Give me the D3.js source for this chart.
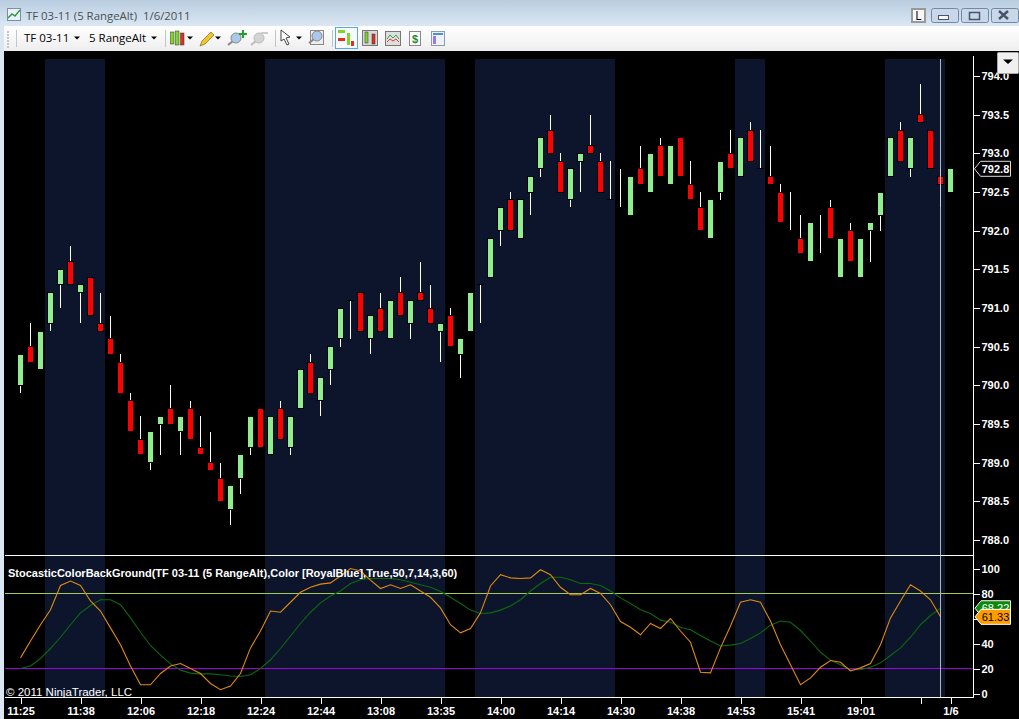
<!DOCTYPE html>
<html>
<head>
<meta charset="utf-8">
<title>TF 03-11 (5 RangeAlt)</title>
<script src="https://cdnjs.cloudflare.com/ajax/libs/d3/7.8.5/d3.min.js"></script>
<style>
  body { margin: 0; background: #000; overflow: hidden; }
  svg { display: block; }
  .axis text { font: bold 11px "Liberation Sans", Arial, sans-serif; fill: #fff; }
  .axis path, .axis line { stroke: #fff; shape-rendering: crispEdges; }
</style>
</head>
<body>
<div id="chart"></div>
<script>
// bar values, one entry per 5 range bar
var opens = [790.0,790.5,790.2,790.8,791.3,791.6,791.2,791.4,790.8,790.6,790.3,789.8,789.3,789.0,789.5,789.7,789.4,789.7,789.2,789.0,788.8,788.4,788.8,789.2,789.7,789.1,789.7,789.2,789.7,790.3,789.8,790.2,790.6,791.1,791.2,790.6,791.0,790.6,791.2,790.8,791.2,791.0,790.7,790.9,790.4,790.7,791.3,791.4,792.0,792.4,791.9,792.5,792.8,793.3,792.9,792.4,792.9,793.1,792.9,792.4,792.3,792.2,792.8,792.5,793.1,792.6,793.2,792.6,792.3,791.9,792.5,793.0,792.7,793.3,792.8,792.7,792.5,792.0,791.9,791.6,791.7,792.3,791.4,792.0,791.4,792.0,792.2,792.7,793.3,792.8,793.5,793.3,792.7,792.5];
var closes = [790.4,790.3,790.7,791.2,791.5,791.3,791.3,790.9,790.7,790.4,789.9,789.4,789.1,789.4,789.6,789.5,789.6,789.3,789.1,788.9,788.5,788.7,789.1,789.6,789.2,789.6,789.3,789.6,790.2,789.9,790.1,790.5,791.0,791.1,790.7,790.9,790.7,791.1,790.9,791.1,791.1,790.8,790.8,790.5,790.6,791.2,791.3,791.9,792.3,792.0,792.4,792.7,793.2,793.0,792.5,792.8,793.0,793.0,792.5,792.4,792.3,792.7,792.6,793.0,792.7,793.1,792.7,792.4,792.0,792.4,792.9,792.8,793.2,792.9,792.8,792.6,792.1,792.0,791.7,792.1,791.7,791.9,791.9,791.6,791.9,792.1,792.5,793.2,792.9,793.2,793.4,792.8,792.6,792.8];
var highs = [790.4,790.8,790.7,791.2,791.5,791.8,791.3,791.4,791.2,790.9,790.4,789.9,789.6,789.4,789.6,790.0,789.6,789.8,789.6,789.4,789.0,788.7,789.1,789.6,789.7,789.6,789.8,789.6,790.2,790.4,790.1,790.5,791.0,791.1,791.2,790.9,791.2,791.1,791.4,791.1,791.6,791.3,790.8,791.0,790.6,791.2,791.3,791.9,792.3,792.5,792.4,792.7,793.2,793.5,793.0,792.8,793.0,793.5,793.0,792.9,792.8,792.7,793.1,793.0,793.2,793.1,793.2,792.9,792.5,792.4,792.9,793.3,793.2,793.4,793.3,793.1,792.6,792.5,792.2,792.1,792.2,792.4,791.9,792.1,791.9,792.1,792.5,793.2,793.4,793.2,793.9,793.3,792.8,792.8];
var lows = [789.9,790.3,790.2,790.7,791.0,791.3,790.8,790.9,790.7,790.4,789.9,789.4,789.1,788.9,789.1,789.5,789.1,789.3,789.1,788.9,788.5,788.2,788.6,789.1,789.2,789.1,789.3,789.1,789.7,789.9,789.6,790.0,790.5,790.6,790.7,790.4,790.7,790.6,790.9,790.6,791.1,790.8,790.3,790.5,790.1,790.7,790.8,791.4,791.8,792.0,791.9,792.2,792.7,793.0,792.5,792.3,792.5,793.0,792.5,792.4,792.3,792.2,792.6,792.5,792.7,792.6,792.7,792.4,792.0,791.9,792.4,792.8,792.7,792.9,792.8,792.6,792.1,792.0,791.7,791.6,791.7,791.9,791.4,791.6,791.4,791.6,792.0,792.7,792.9,792.7,793.4,792.8,792.3,792.5];

// stochastics, one value less than the bars (last bar has no value yet)
var stochK = [28.5,42,55,67,86.4,90,86.4,74,66,52.5,39,22,7,7,16,22,24,20,16,8,3,6,16,36.5,50,66,65,73,81,85,87.5,88.5,94,100,98,90.7,84,87,84,87,82,77,68.5,55,48.5,52,64.5,86,95,92.5,92,92.5,99,95,85,79,79,84,80,71,57.6,53,47,56,52,60,50,41,17,16.5,36.5,54,73,75,73,58,39,23,7,12.5,21,26.4,25,18,20.5,24,39,60.5,74,87,82,75,61.33];
var stochD = [20,22,28,36,45,55,64.5,70.4,75,75,71,60.5,49,38.4,30.7,23.7,18.7,16.3,15.7,15.7,15,14,13.6,15,20,27,36,46,56,65,72.5,78,82,88,91,92,92,92,91,89,87,85,81.6,77,72,66.7,64,64.5,66.7,70,75,82,88,93,93,91,88,88,86.4,82,76.5,72,67,64,58.7,57,53,51,46.4,42,38,38.7,40,44,48.5,54.7,58,57,50.4,42,33,26.7,23,19,19,21,24.5,30.4,36.5,45,55,62.4,68.22];

// shaded background runs, first and last bar index of each
var shadedRuns = [[3, 8], [25, 42], [46, 59], [72, 74], [87, 92]];

var priceTicks = [794,793.5,793,792.5,792,791.5,791,790.5,790,789.5,789,788.5,788];
var stochTicks = [100,80,60,40,20,0];
var stochLevels = [80, 20];

var timeTickBars = [0,6,12,18,24,30,36,42,48,54,60,66,72,78,84,90,93];
var timeTickLabels = ["11:25","11:38","12:06","12:18","12:24","12:44","13:08","13:35","14:00","14:14","14:30","14:38","14:53","15:41","19:01","","1/6"];

var svgWidth = 1019;
var svgHeight = 719;

var panelLeft = 5;
var axisX = 973.5;
var priceTop = 59;
var dividerY = 555.5;
var stochBottom = 697.5;

var navy = "#0c152b";
var upColor = "#90ee90";
var downColor = "#ff0000";
var kColor = "#e08a10";
var dColor = "#0b6a0b";
var levelColors = ["#a4cc48", "#a000e0"];

var svg = d3.select("#chart")
  .append("svg")
  .attr("width", svgWidth)
  .attr("height", svgHeight);

var xScale = d3.scaleLinear().domain([0, opens.length - 1]).range([20.5, 950.5]);
var yPrice = d3.scaleLinear().domain([788, 794]).range([540, 76]);
var yStoch = d3.scaleLinear().domain([0, 100]).range([693.5, 568.5]);

svg.append("rect").attr("width", svgWidth).attr("height", svgHeight).attr("fill", "#000");

// shaded backgrounds go from half way before the first bar to half way after the last
var bandGroup = svg.append("g").attr("shape-rendering", "crispEdges");
bandGroup.selectAll("rect")
  .data(shadedRuns)
  .enter()
  .append("rect")
  .attr("x", d => xScale(d[0]) - 5.5)
  .attr("width", d => xScale(d[1]) - xScale(d[0]) + 10)
  .attr("y", priceTop)
  .attr("height", stochBottom - priceTop)
  .attr("fill", navy);

// candles
var barData = opens.map(function(o, i) {
  return { i: i, open: o, close: closes[i], high: highs[i], low: lows[i] };
});

var candles = svg.append("g").attr("shape-rendering", "crispEdges");

candles.selectAll(".wick")
  .data(barData)
  .enter()
  .append("line")
  .attr("class", "wick")
  .attr("x1", d => xScale(d.i))
  .attr("x2", d => xScale(d.i))
  .attr("y1", d => yPrice(d.high))
  .attr("y2", d => yPrice(d.low))
  .attr("stroke", "#fff");

candles.selectAll(".body")
  .data(barData.filter(d => d.open !== d.close))
  .enter()
  .append("rect")
  .attr("class", "body")
  .attr("x", d => xScale(d.i) - 3)
  .attr("width", 6)
  .attr("y", d => yPrice(Math.max(d.open, d.close)))
  .attr("height", d => Math.abs(yPrice(d.open) - yPrice(d.close)))
  .attr("fill", d => d.close >= d.open ? upColor : downColor)
  .attr("stroke", "#000");

// open equal to close only leaves a black dash
candles.selectAll(".doji")
  .data(barData.filter(d => d.open === d.close))
  .enter()
  .append("line")
  .attr("class", "doji")
  .attr("x1", d => xScale(d.i) - 3.5)
  .attr("x2", d => xScale(d.i) + 3.5)
  .attr("y1", d => yPrice(d.close))
  .attr("y2", d => yPrice(d.close))
  .attr("stroke", "#000");

// panel divider and stochastic levels
svg.append("line")
  .attr("x1", panelLeft).attr("x2", axisX)
  .attr("y1", dividerY).attr("y2", dividerY)
  .attr("stroke", "#fff").attr("shape-rendering", "crispEdges");

svg.selectAll(".level")
  .data(stochLevels)
  .enter()
  .append("line")
  .attr("class", "level")
  .attr("x1", panelLeft).attr("x2", axisX)
  .attr("y1", d => yStoch(d)).attr("y2", d => yStoch(d))
  .attr("stroke", (d, i) => levelColors[i])
  .attr("stroke-width", 1.2);

// stochastic lines
var stochLine = d3.line()
  .x((d, i) => xScale(i))
  .y(d => yStoch(d));

svg.append("path").attr("d", stochLine(stochD)).attr("fill", "none").attr("stroke", dColor).attr("stroke-width", 1.1);
svg.append("path").attr("d", stochLine(stochK)).attr("fill", "none").attr("stroke", kColor).attr("stroke-width", 1.1);

// cursor line on the last bar with a stochastic value
svg.append("line")
  .attr("x1", 940.5).attr("x2", 940.5)
  .attr("y1", priceTop).attr("y2", stochBottom)
  .attr("stroke", "#c4c8cc").attr("stroke-opacity", 0.9)
  .attr("shape-rendering", "crispEdges");

// axes
var priceAxis = d3.axisRight(yPrice)
  .tickValues(priceTicks)
  .tickFormat(d3.format(".1f"))
  .tickSize(6)
  .tickPadding(2);

svg.append("g")
  .attr("class", "axis")
  .attr("transform", `translate(${axisX}, 0)`)
  .call(priceAxis)
  .call(g => g.select(".domain").remove());

var stochAxis = d3.axisRight(yStoch)
  .tickValues(stochTicks)
  .tickSize(6)
  .tickPadding(2);

svg.append("g")
  .attr("class", "axis")
  .attr("transform", `translate(${axisX}, 0)`)
  .call(stochAxis)
  .call(g => g.select(".domain").remove());

svg.append("line")
  .attr("x1", axisX).attr("x2", axisX)
  .attr("y1", 56).attr("y2", stochBottom)
  .attr("stroke", "#fff").attr("shape-rendering", "crispEdges");

var timeAxis = d3.axisBottom(xScale)
  .tickValues(timeTickBars)
  .tickFormat((d, i) => timeTickLabels[i])
  .tickSize(6)
  .tickPadding(4);

svg.append("g")
  .attr("class", "axis")
  .attr("transform", `translate(0, ${stochBottom})`)
  .call(timeAxis)
  .call(g => g.select(".domain").attr("d", `M${panelLeft},0H${axisX}`));

// flags on the right hand axis
function flag(y, left, right, fill, edge, txt, txtColor, weight) {
  var h = 7.5;
  svg.append("path")
    .attr("d", `M${left},${y}L${left + 6},${y - h}H${right}V${y + h}H${left + 6}Z`)
    .attr("fill", fill)
    .attr("stroke", edge);
  svg.append("text")
    .attr("x", 995.5).attr("y", y + 4)
    .attr("text-anchor", "middle")
    .style("font", weight + " 11px 'Liberation Sans', Arial, sans-serif")
    .style("fill", txtColor)
    .text(txt);
}

flag(yPrice(closes[closes.length - 1]), 974.5, 1010.5, "#000", "#ddd", d3.format(".1f")(closes[closes.length - 1]), "#fff", "bold");
flag(yStoch(stochD[stochD.length - 1]), 975, 1010.5, "#0a8a0a", "#fff", d3.format(".2f")(stochD[stochD.length - 1]), "#fff", "normal");
flag(yStoch(stochK[stochK.length - 1]), 975, 1010.5, "#ff9c00", "#fff", d3.format(".2f")(stochK[stochK.length - 1]), "#000", "normal");

// indicator caption and copyright
svg.append("text")
  .attr("x", 8).attr("y", 577)
  .style("font", "bold 11px 'Liberation Sans', Arial, sans-serif")
  .style("fill", "#fff")
  .text("StocasticColorBackGround(TF 03-11 (5 RangeAlt),Color [RoyalBlue],True,50,7,14,3,60)");

svg.append("text")
  .attr("x", 6).attr("y", 696)
  .style("font", "11.5px 'Liberation Sans', Arial, sans-serif")
  .style("fill", "#fff")
  .text("\u00a9 2011 NinjaTrader, LLC");

// window chrome
var defs = svg.append("defs");
var titleGrad = defs.append("linearGradient").attr("id", "titleGrad").attr("x2", 0).attr("y2", 1);
titleGrad.append("stop").attr("offset", 0).attr("stop-color", "#b9cde0");
titleGrad.append("stop").attr("offset", 1).attr("stop-color", "#dbe7f3");
var barGrad = defs.append("linearGradient").attr("id", "barGrad").attr("x2", 0).attr("y2", 1);
barGrad.append("stop").attr("offset", 0).attr("stop-color", "#ffffff");
barGrad.append("stop").attr("offset", 1).attr("stop-color", "#eeeeee");

var chrome = svg.append("g");
chrome.append("rect").attr("width", svgWidth).attr("height", 26).attr("fill", "url(#titleGrad)");
chrome.append("rect").attr("y", 26).attr("width", svgWidth).attr("height", 25).attr("fill", "url(#barGrad)");
chrome.append("rect").attr("y", 26).attr("width", 4).attr("height", svgHeight - 26).attr("fill", "#dbe6f3");

chrome.append("text")
  .attr("x", 26).attr("y", 20)
  .style("font", "11.4px 'Open Sans', 'Noto Sans', sans-serif")
  .style("fill", "#4a4f55")
  .text("TF 03-11 (5 RangeAlt)\u00a0\u00a01/6/2011");

function toolText(x, txt) {
  chrome.append("text")
    .attr("x", x).attr("y", 42)
    .style("font", "11.5px 'Open Sans', 'Noto Sans', sans-serif")
    .style("fill", "#000")
    .text(txt);
}
toolText(24, "TF 03-11");
toolText(89, "5 RangeAlt");

function caret(x) {
  chrome.append("path").attr("d", `M${x - 3},36.5h6l-3,3z`).attr("fill", "#000");
}
[77, 154, 190, 218, 299].forEach(caret);

function separator(x) {
  chrome.append("line").attr("x1", x + .5).attr("x2", x + .5).attr("y1", 30).attr("y2", 47)
    .attr("stroke", "#c4c4c4");
}
[16, 165, 275, 332].forEach(separator);

// grip
d3.range(0, 6).forEach(function(i) {
  chrome.append("rect").attr("x", 7).attr("y", 31 + i * 3).attr("width", 2).attr("height", 2).attr("fill", "#c6c6c6");
});

// small candle glyphs for the buttons
function glyph(x, y, w, h, color) {
  chrome.append("rect").attr("x", x).attr("y", y).attr("width", w).attr("height", h)
    .attr("fill", color).attr("stroke", "#333").attr("stroke-width", .5);
}
glyph(170.5, 32, 3.5, 12, "#7fd62a");
glyph(175.5, 31, 3.5, 14, "#7fd62a");
glyph(180.5, 33, 3.5, 12, "#e03020");

// pencil
chrome.append("path").attr("d", "M200,46l2,-5l9,-9l3,3l-9,9z").attr("fill", "#f3c22c").attr("stroke", "#8a6a10").attr("stroke-width", .7);

// magnifiers
function magnifier(cx, cy, color, handle) {
  chrome.append("line").attr("x1", cx - 8).attr("y1", cy + 7).attr("x2", cx - 3).attr("y2", cy + 3)
    .attr("stroke", handle).attr("stroke-width", 2);
  chrome.append("circle").attr("cx", cx).attr("cy", cy).attr("r", 5)
    .attr("fill", color).attr("stroke", handle).attr("stroke-width", 1);
}
magnifier(236, 38, "#a9c8ea", "#888");
chrome.append("path").attr("d", "M239,33h3v-3h2v3h3v2h-3v3h-2v-3h-3z").attr("fill", "#1fa12c");
magnifier(259, 38, "#d4d4d4", "#bbb");
chrome.append("rect").attr("x", 261).attr("y", 32).attr("width", 7).attr("height", 2).attr("fill", "#ccc");

// arrow pointer
chrome.append("path").attr("d", "M281,30l0,11l3,-2l3,6l2,-1l-3,-6l4,-1z").attr("fill", "#fff").attr("stroke", "#444");

// magnifier button
chrome.append("rect").attr("x", 310.5).attr("y", 30.5).attr("width", 13).attr("height", 14).attr("fill", "#eee").attr("stroke", "#888");
magnifier(317, 36, "#a9c8ea", "#888");

// selected button
chrome.append("rect").attr("x", 335.5).attr("y", 27.5).attr("width", 22).attr("height", 21)
  .attr("fill", "#f7fbff").attr("stroke", "#5aa7ea");
chrome.append("rect").attr("x", 338).attr("y", 30).attr("width", 7).attr("height", 3).attr("fill", "#7fd62a");
chrome.append("rect").attr("x", 338).attr("y", 38).attr("width", 7).attr("height", 3).attr("fill", "#e03020");
chrome.append("rect").attr("x", 347).attr("y", 33).attr("width", 3).attr("height", 12).attr("fill", "#7fd62a");
chrome.append("rect").attr("x", 351).attr("y", 41).attr("width", 3).attr("height", 5).attr("fill", "#e03020");

// candle button
chrome.append("rect").attr("x", 362.5).attr("y", 30.5).attr("width", 15).attr("height", 15).attr("fill", "#d8d8d8").attr("stroke", "#777");
glyph(365, 32, 3, 11, "#7fd62a");
glyph(372, 34, 3, 10, "#e03020");

// chart button
chrome.append("rect").attr("x", 385.5).attr("y", 31.5).attr("width", 15).attr("height", 14).attr("fill", "#dedede").attr("stroke", "#777");
chrome.append("path").attr("d", "M387,39l3,-4l3,3l3,-3l3,4").attr("fill", "none").attr("stroke", "#2aa84a");
chrome.append("path").attr("d", "M387,42l3,-3l3,2l3,-2l3,3").attr("fill", "none").attr("stroke", "#d84040");

// dollar sheet
chrome.append("rect").attr("x", 409.5).attr("y", 31.5).attr("width", 11).attr("height", 14).attr("fill", "#fff").attr("stroke", "#888");
chrome.append("text").attr("x", 415).attr("y", 43)
  .attr("text-anchor", "middle")
  .style("font", "bold 11px 'Liberation Sans', Arial, sans-serif")
  .style("fill", "#1f8a2c").text("$");

// properties sheet
chrome.append("rect").attr("x", 431.5).attr("y", 31.5).attr("width", 13).attr("height", 14).attr("fill", "#eef2f8").attr("stroke", "#8a9ab0");
chrome.append("rect").attr("x", 433).attr("y", 33).attr("width", 10).attr("height", 2).attr("fill", "#4a90d0");
chrome.append("rect").attr("x", 433).attr("y", 36).attr("width", 3).attr("height", 8).attr("fill", "#9a7ae0");

// title bar icon
chrome.append("rect").attr("x", 7.5).attr("y", 8.5).attr("width", 13).attr("height", 12).attr("fill", "#eaf2fb").attr("stroke", "#7d8ea3");
chrome.append("path").attr("d", "M8,18l4,-4l3,2l5,-6").attr("fill", "none").attr("stroke", "#2a9a3c").attr("stroke-width", 1.4);

// title bar buttons
chrome.append("rect").attr("x", 912).attr("y", 9).attr("width", 13).attr("height", 13).attr("fill", "#f6f6f6").attr("stroke", "#999").attr("stroke-width", 2);
chrome.append("text").attr("x", 918.5).attr("y", 20)
  .attr("text-anchor", "middle")
  .style("font", "12px 'Open Sans', sans-serif").style("fill", "#000").text("L");

[[931, 27], [961, 27], [991, 27]].forEach(function(b) {
  chrome.append("rect").attr("x", b[0] + .5).attr("y", 8.5).attr("width", b[1]).attr("height", 14).attr("rx", 2)
    .attr("fill", "#c9d7e8").attr("stroke", "#7089a8");
});
chrome.append("rect").attr("x", 938.5).attr("y", 15.5).attr("width", 10).attr("height", 4).attr("fill", "#f4f7fb").attr("stroke", "#47546a");
chrome.append("rect").attr("x", 969.5).attr("y", 12.5).attr("width", 10).attr("height", 7).attr("fill", "none").attr("stroke", "#47546a").attr("stroke-width", 1.5);
chrome.append("path").attr("d", "M999,11l9,8m0,-8l-9,8").attr("stroke", "#47546a").attr("stroke-width", 2.4);

// panel menu button
chrome.append("rect").attr("x", 997.5).attr("y", 52.5).attr("width", 21).attr("height", 21).attr("rx", 1).attr("fill", "#f0f0f0").attr("stroke", "#aaa");
chrome.append("path").attr("d", "M1003,59.5h10l-5,4.5z").attr("fill", "#000");
</script>
</body>
</html>
